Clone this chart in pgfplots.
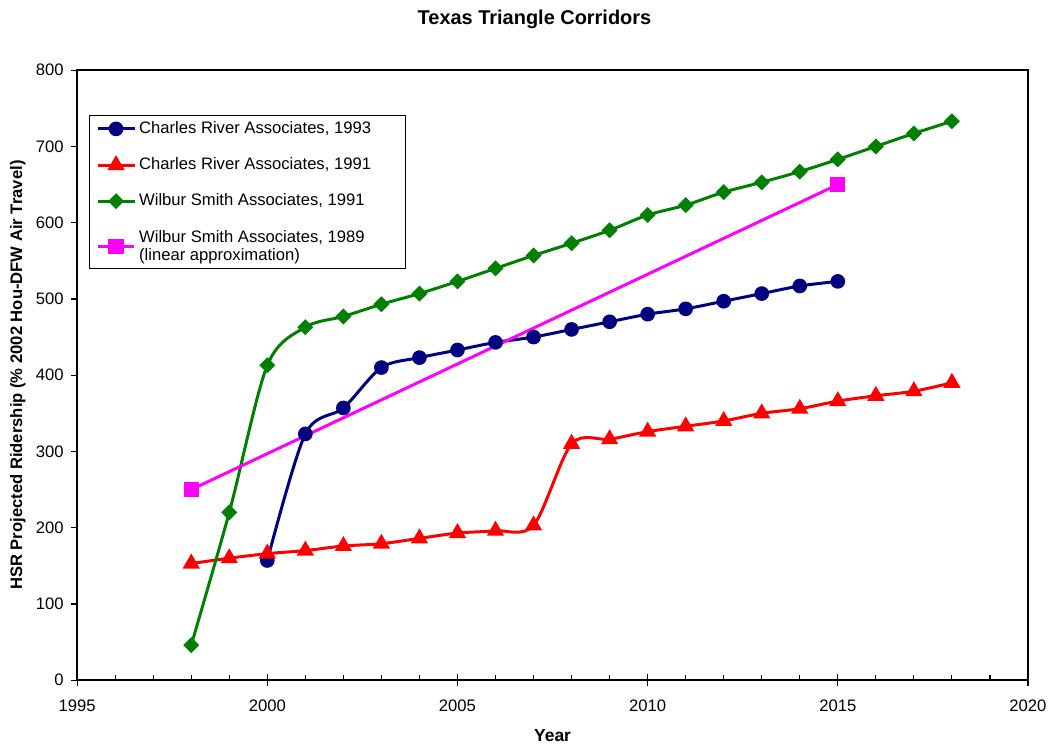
\documentclass[border=0pt]{standalone}
\usepackage{pgfplots}
\pgfplotsset{compat=1.18}
\usepackage{fontspec}
\setmainfont{Liberation Sans}

\definecolor{cranavy}{RGB}{0,0,128}
\definecolor{crared}{RGB}{255,0,0}
\definecolor{wsagreen}{RGB}{0,128,0}
\definecolor{wsamag}{RGB}{255,0,255}

\begin{document}
\begin{tikzpicture}
  \begin{axis}[
    width=572pt, height=367pt, scale only axis,
    xmin=1995, xmax=2020, ymin=0, ymax=800,
    xtick={1995,2000,...,2020},
    ytick={0,100,...,800},
    minor x tick num=4,
    tick pos=left, tick align=outside,
    major tick length=3.6pt, minor tick length=3pt,
    minor x tick style={yshift=3pt},
    extra x ticks={2000,2005,2010,2015},
    extra x tick labels={},
    extra x tick style={tick align=inside},
    axis line style={line width=0.9pt},
    every tick/.style={black, line width=0.7pt},
    /pgf/number format/assume math mode=true,
    /pgf/number format/1000 sep={},
    tick label style={font=\fontsize{10}{12}\selectfont},
    xticklabel style={yshift=-4.8pt},
    yticklabel style={xshift=-1pt},
    title={Texas Triangle Corridors},
    title style={at={(axis description cs:0.481,1.067)}, anchor=center,
      inner ysep=6pt,
      font=\bfseries\fontsize{12}{14}\selectfont},
    xlabel={Year},
    xlabel style={at={(axis description cs:0.5,-0.09)}, anchor=center,
      font=\bfseries\fontsize{10.5}{12}\selectfont},
    ylabel={HSR Projected Ridership (\% 2002 Hou-DFW Air Travel)},
    ylabel style={at={(axis description cs:-0.0625,0.5)}, anchor=center,
      inner ysep=6pt,
      font=\bfseries\fontsize{10}{12}\selectfont},
    legend cell align=left,
    legend style={at={(axis description cs:0.0126,0.926)}, anchor=north west,
      draw=black, line width=0.6pt, row sep=9pt,
      inner xsep=4pt, inner ysep=1.5pt,
      font=\fontsize{10}{11}\selectfont,
      cells={align=left}},
    legend image code/.code={
      \draw[mark repeat=2,mark phase=2] plot coordinates {(0pt,0pt) (11pt,0pt) (22pt,0pt)};},
  ]
    % Charles River Associates, 1993
    \addplot[cranavy, line width=1.8pt, smooth, mark=*, mark size=3.5pt,
      mark options={solid}] coordinates {
      (2000,157) (2001,323) (2002,357) (2003,410) (2004,423) (2005,433)
      (2006,443) (2007,450) (2008,460) (2009,470) (2010,480) (2011,487)
      (2012,497) (2013,507) (2014,517) (2015,523)
    };
    \addlegendentry{Charles River Associates, 1993\rule{15pt}{0pt}}
    % Charles River Associates, 1991
    \addplot[crared, line width=1.8pt, smooth, mark=triangle*, mark size=4.2pt,
      mark options={solid}] coordinates {
      (1998,153) (1999,160) (2000,166) (2001,170) (2002,176) (2003,179)
      (2004,186) (2005,193) (2006,196) (2007,203) (2008,310) (2009,316)
      (2010,326) (2011,333) (2012,340) (2013,350) (2014,356) (2015,366)
      (2016,373) (2017,379) (2018,390)
    };
    \addlegendentry{Charles River Associates, 1991}
    % Wilbur Smith Associates, 1991
    \addplot[wsagreen, line width=1.8pt, smooth, mark=square*, mark size=2.5pt,
      mark options={solid, rotate=45}] coordinates {
      (1998,46) (1999,220) (2000,413) (2001,463) (2002,477) (2003,493)
      (2004,507) (2005,523) (2006,540) (2007,557) (2008,573) (2009,590)
      (2010,610) (2011,623) (2012,640) (2013,653) (2014,667) (2015,683)
      (2016,700) (2017,717) (2018,733)
    };
    \addlegendentry{Wilbur Smith Associates, 1991}
    % Wilbur Smith Associates, 1989 (linear approximation)
    \addplot[wsamag, line width=1.8pt, mark=square*, mark size=3.7pt,
      mark options={solid}] coordinates {
      (1998,250) (2015,650)
    };
    \addlegendentry{Wilbur Smith Associates, 1989\\(linear approximation)}
  \end{axis}
\end{tikzpicture}
\end{document}
